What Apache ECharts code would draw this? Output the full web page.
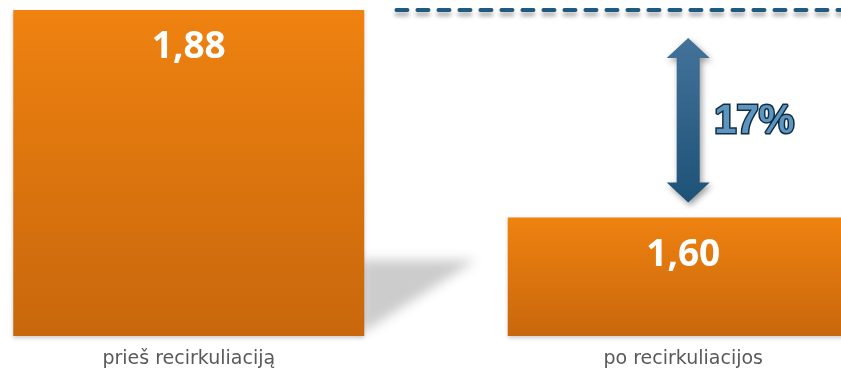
<!DOCTYPE html>
<html>
<head>
<meta charset="utf-8">
<script src="https://cdn.jsdelivr.net/npm/echarts@6/dist/echarts.min.js"></script>
<style>
html,body{margin:0;padding:0;background:#fff;}
#chart{width:841px;height:373px;}
</style>
</head>
<body>
<div id="chart"></div>
<script>
// ---- data ----
var categories = ['prieš recirkuliaciją', 'po recirkuliacijos'];
var values = [1.88, 1.60];
var referenceLevel = 1.88;          // dashed reference line (before value)
var referenceSpan = [0.42, 1.326];  // category-position span of the dashed line
var changeLabel = '17%';
var arrowPos = 1.01;                // category-position of the arrow

var chart = echarts.init(document.getElementById('chart'), null, {renderer: 'canvas'});
var BAR_W = 351;

function fmt(v){ return v.toFixed(2).replace('.', ','); }

var option = {
  animation: false,
  grid: {left: -58.5, width: 989, top: 10, bottom: 37, containLabel: false, outerBoundsMode: 'none'},
  xAxis: [{
    type: 'category',
    data: categories,
    axisLine: {show: false},
    axisTick: {show: false},
    axisLabel: {color: '#595959', fontFamily: 'DejaVu Sans', fontSize: 19, margin: 14}
  }, {
    type: 'value', min: -0.5, max: 1.5, show: false
  }],
  yAxis: {type: 'value', min: 1.44, max: 1.88, show: false, splitLine: {show: false}},
  series: [
    {
      type: 'custom',
      xAxisIndex: 1,
      z: 1,
      silent: true,
      data: [[0, values[0]]],
      renderItem: function(params, api){
        var c = api.coord([api.value(0), 1.44]);
        var right = c[0] + BAR_W / 2;
        var bottom = c[1];
        var off = 3000;
        return {
          type: 'polygon',
          shape: {points: [[right - 4 - off, bottom - 76], [right + 112 - off, bottom - 76], [right - 4 - off, bottom - 2]]},
          style: {fill: '#cccccc', shadowColor: '#cccccc', shadowBlur: 12, shadowOffsetX: off}
        };
      }
    },
    {
      type: 'bar',
      z: 2,
      data: values,
      barWidth: BAR_W,
      itemStyle: {
        color: new echarts.graphic.LinearGradient(0, 0, 0, 1, [
          {offset: 0, color: '#EF8210'},
          {offset: 1, color: '#C8670C'}
        ]),
        shadowColor: 'rgba(0,0,0,0.2)', shadowBlur: 4, shadowOffsetY: 2
      },
      label: {
        show: true,
        position: 'insideTop',
        distance: 19,
        color: '#ffffff',
        fontFamily: 'Open Sans',
        fontWeight: 'bold',
        fontSize: 37,
        formatter: function(p){ return fmt(p.value); }
      }
    },
    {
      type: 'line',
      xAxisIndex: 1,
      z: 3,
      symbol: 'none',
      silent: true,
      data: [[referenceSpan[0], referenceLevel], [referenceSpan[1], referenceLevel]],
      lineStyle: {
        color: '#1F5A80', width: 4, type: [11, 10], cap: 'round',
        shadowColor: 'rgba(0,0,0,0.35)', shadowBlur: 4, shadowOffsetY: 4
      }
    },
    {
      type: 'custom',
      xAxisIndex: 1,
      z: 4,
      silent: true,
      data: [[arrowPos, values[0], values[1]]],
      renderItem: function(params, api){
        var p1 = api.coord([api.value(0), api.value(1)]);
        var p2 = api.coord([api.value(0), api.value(2)]);
        var x = p1[0];
        var top = p1[1] + 28, bot = p2[1] - 15;
        var hw = 21.5, sw = 11.5, hh = 20;
        var pts = [
          [x, top], [x + hw, top + hh], [x + sw, top + hh], [x + sw, bot - hh],
          [x + hw, bot - hh], [x, bot], [x - hw, bot - hh], [x - sw, bot - hh],
          [x - sw, top + hh], [x - hw, top + hh]
        ];
        var midY = (top + bot) / 2;
        return {
          type: 'group',
          children: [{
            type: 'polygon',
            shape: {points: pts},
            style: {
              fill: new echarts.graphic.LinearGradient(0, 0, 0, 1, [
                {offset: 0, color: '#44729A'},
                {offset: 1, color: '#1D5277'}
              ]),
              shadowColor: 'rgba(0,0,0,0.4)', shadowBlur: 6, shadowOffsetX: 2, shadowOffsetY: 3
            }
          }, {
            type: 'text',
            style: {
              x: x + 66, y: midY + 2,
              text: changeLabel,
              align: 'center', verticalAlign: 'middle',
              fontFamily: '"Liberation Sans", sans-serif',
              fontWeight: 'bold', fontSize: 40,
              fill: '#5E95BE',
              stroke: '#0F2D45', lineWidth: 3
            }
          }]
        };
      }
    }
  ]
};
chart.setOption(option);
</script>
</body>
</html>
